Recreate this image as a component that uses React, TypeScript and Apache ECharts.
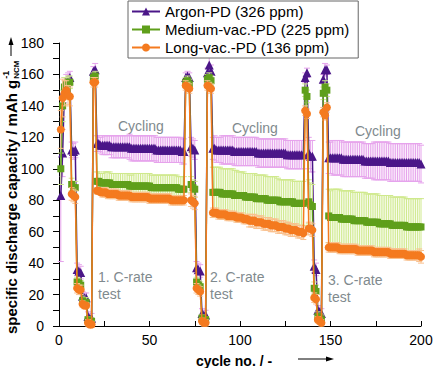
import React, { useEffect, useRef } from 'react';
import * as echarts from 'echarts';

// ---------- data ----------
const seriesNames = ['Argon-PD (326 ppm)', 'Medium-vac.-PD (225 ppm)', 'Long-vac.-PD (136 ppm)'];

// cycles 1-20: 1st C-rate test
const argonTest1 = [83,110,150,156,157,158,112,111,112,36,35,34,19,18,18,6,5,5,162,163];
const mediumTest1 = [100,140,152,154,155,155,90,88,88,28,27,26,16,15,15,4,3,3,158,159];
const orangeTest1 = [125,145,148,150,147,146,84,83,82,24,23,23,14,13,13,2,1,1,155,155];
const argonErrT1 = [42,15,8,4,4,4,5,5,5,4,4,4,3,3,3,3,3,3,3,4];
const mediumErrT1 = [10,10,6,4,4,4,4,4,4,3,3,3,3,3,3,2,2,2,3,3];
const orangeErrT1 = [12,12,8,6,6,6,4,4,4,3,3,3,2,2,2,2,2,2,3,3];

// cycles 21-69: cycling
const argonC1 = [116,116,115,115,115,115,115,115,114,114,114,114,114,114,114,114,114,114,114,113,113,113,113,113,113,113,113,113,113,113,113,113,113,112,112,112,112,112,112,112,112,112,112,112,112,112,112,111,111];
const mediumC1 = [92,92,91,91,91,91,91,91,90,90,90,90,90,90,90,90,90,90,89,89,89,89,89,89,89,89,89,89,89,89,88,88,88,88,88,88,88,88,88,88,88,88,88,88,88,87,87,87,87];
const orangeC1 = [86,86,85,85,85,85,84,84,84,84,84,84,83,83,83,83,83,83,83,82,82,82,82,82,82,82,82,82,82,81,81,81,81,81,81,81,81,81,81,81,81,80,80,80,80,80,80,80,80];
const argonErrC1 = [5,5,5,6,6,6,6,6,7,7,7,7,7,7,7,7,7,7,8,8,8,8,8,8,8,8,8,8,8,8,8,8,8,8,8,8,8,8,8,8,8,8,8,8,8,8,8,8,8];
const mediumErrC1 = [6,6,6,6,7,7,7,7,7,7,7,7,7,7,7,7,7,7,7,7,8,8,8,8,8,8,8,8,8,8,8,8,8,8,8,8,8,8,8,8,8,8,8,8,8,8,8,8,8];
const orangeErrC1 = [2,2,2,3,3,3,3,3,3,3,3,3,3,3,3,3,3,3,3,3,3,3,3,3,3,3,3,3,3,3,3,3,3,3,3,3,3,3,3,3,3,3,3,3,3,3,3,3,3];

// cycles 70-84: 2nd C-rate test
const argonTest2 = [158,159,158,114,113,112,37,36,35,8,7,7,161,166,162];
const mediumTest2 = [155,156,154,90,88,87,28,26,25,5,4,4,157,158,156];
const orangeTest2 = [153,152,151,80,79,78,24,23,22,3,2,2,153,152,151];
const argonErrT2 = [3,3,3,6,6,6,4,4,4,3,3,3,3,5,4];
const mediumErrT2 = [3,3,3,5,5,5,3,3,3,2,2,2,3,3,3];
const orangeErrT2 = [3,3,3,4,4,4,3,3,3,2,2,2,3,3,3];

// cycles 85-135: cycling
const argonC2 = [113,113,112,112,112,112,112,112,112,112,112,112,111,111,111,111,111,111,111,111,111,111,111,111,111,110,110,110,110,110,110,110,110,110,110,110,110,110,110,110,110,109,109,109,109,109,109,109,109,109,109];
const mediumC2 = [85,85,85,85,85,84,84,84,84,84,84,84,83,83,83,83,83,83,82,82,82,82,82,82,81,81,81,81,81,81,80,80,80,80,80,80,80,79,79,79,79,79,79,79,79,78,78,78,78,78,78];
const orangeC2 = [72,72,72,71,71,71,71,71,70,70,70,70,70,69,69,69,69,68,68,68,67,67,67,67,66,66,66,66,65,65,65,65,64,64,64,64,63,63,63,63,62,62,62,61,61,61,61,60,60,60,59];
const argonErrC2 = [7,8,8,8,8,9,9,9,9,9,9,9,9,9,9,9,9,9,9,9,9,9,9,9,9,9,9,9,9,9,9,9,9,9,9,9,9,9,9,9,9,9,9,9,9,9,9,9,9,9,9];
const mediumErrC2 = [16,16,16,16,16,16,16,16,16,16,16,16,16,16,15,15,15,15,15,15,15,15,15,15,15,15,15,15,15,15,15,15,15,15,15,15,14,14,14,14,14,14,14,14,14,14,14,14,14,14,14];
const orangeErrC2 = [3,3,3,3,3,3,3,3,3,3,3,3,3,3,3,3,3,3,3,3,4,4,4,4,4,4,4,4,4,4,4,4,4,4,4,4,4,4,4,4,4,4,4,4,4,4,4,4,4,4,4];

// cycles 136-148: 3rd C-rate test
const argonTest3 = [158,161,110,108,108,38,36,10,9,8,157,163,163];
const mediumTest3 = [150,146,79,77,76,24,22,6,5,4,148,152,150];
const orangeTest3 = [137,135,62,62,61,18,17,4,3,2,136,134,139];
const argonErrT3 = [3,3,10,10,10,4,4,3,3,3,3,4,3];
const mediumErrT3 = [4,4,14,14,14,4,4,3,3,3,4,4,4];
const orangeErrT3 = [3,3,4,4,4,3,3,2,2,2,3,3,3];

// cycles 149-200: cycling
const argonC3 = [107,107,107,107,107,107,107,107,106,106,106,106,106,106,106,106,106,106,106,106,105,105,105,105,105,105,105,105,105,105,105,105,105,105,104,104,104,104,104,104,104,104,104,104,104,104,104,104,104,104,104,103];
const mediumC3 = [70,69,69,69,69,69,69,68,68,68,68,68,68,68,67,67,67,67,67,67,67,66,66,66,66,66,66,66,65,65,65,65,65,65,65,64,64,64,64,64,64,64,64,63,63,63,63,63,63,63,63,63];
const orangeC3 = [50,50,50,50,50,50,49,49,49,49,49,49,49,49,49,49,48,48,48,48,48,48,48,48,48,47,47,47,47,47,47,47,47,47,46,46,46,46,46,46,46,46,46,45,45,45,45,45,45,45,45,44];
const argonErrC3 = [10,10,11,11,11,11,11,11,11,11,11,11,11,11,11,11,11,11,11,11,11,11,11,11,11,12,12,12,12,12,12,12,12,12,12,12,12,12,12,12,12,12,12,12,12,12,12,12,12,12,12,12];
const mediumErrC3 = [17,17,18,18,18,18,18,18,18,18,18,18,18,18,18,18,18,18,18,18,18,18,18,18,18,18,18,18,18,18,18,18,18,18,18,18,18,18,18,18,18,18,18,18,18,18,18,18,18,18,18,18];
const orangeErrC3 = [3,3,3,3,3,3,3,3,3,3,3,3,3,3,3,3,3,3,3,3,3,3,3,3,3,3,3,3,3,3,3,3,3,3,3,3,3,3,3,3,3,3,3,3,3,3,3,3,3,3,4,4];

const argon = [...argonTest1, ...argonC1, ...argonTest2, ...argonC2, ...argonTest3, ...argonC3];
const medium = [...mediumTest1, ...mediumC1, ...mediumTest2, ...mediumC2, ...mediumTest3, ...mediumC3];
const orange = [...orangeTest1, ...orangeC1, ...orangeTest2, ...orangeC2, ...orangeTest3, ...orangeC3];
const argonErr = [...argonErrT1, ...argonErrC1, ...argonErrT2, ...argonErrC2, ...argonErrT3, ...argonErrC3];
const mediumErr = [...mediumErrT1, ...mediumErrC1, ...mediumErrT2, ...mediumErrC2, ...mediumErrT3, ...mediumErrC3];
const orangeErr = [...orangeErrT1, ...orangeErrC1, ...orangeErrT2, ...orangeErrC2, ...orangeErrT3, ...orangeErrC3];
const cycles = argon.map((_, i) => i + 1);

const FONT = '"Liberation Sans", Arial, Helvetica, sans-serif';
const NOTE = '#7f8a8e';

function measure(text: string, font: string): number {
  const c = document.createElement('canvas').getContext('2d');
  if (!c) return text.length * 7.5;
  c.font = font;
  return c.measureText(text).width;
}

function makeSeries(name: string, vals: number[], errs: number[], color: string, light: string, symbol: string, size: number, z: number) {
  const errData = cycles.map((c, i) => [c, vals[i] - errs[i], vals[i] + errs[i]]);
  return [
    {
      type: 'custom',
      name: name + ' err',
      z,
      silent: true,
      encode: { x: 0, y: [1, 2] },
      data: errData,
      renderItem: (params: any, api: any) => {
        const x = api.value(0);
        const lo = api.coord([x, api.value(1)]);
        const hi = api.coord([x, api.value(2)]);
        const cap = 3;
        const st = { stroke: light, lineWidth: 1 };
        return {
          type: 'group',
          children: [
            { type: 'line', shape: { x1: lo[0], y1: lo[1], x2: hi[0], y2: hi[1] }, style: st },
            { type: 'line', shape: { x1: lo[0] - cap, y1: lo[1], x2: lo[0] + cap, y2: lo[1] }, style: st },
            { type: 'line', shape: { x1: hi[0] - cap, y1: hi[1], x2: hi[0] + cap, y2: hi[1] }, style: st },
          ],
        };
      },
    },
    {
      type: 'line',
      name,
      z: z + 1,
      data: cycles.map((c, i) => [c, vals[i]]),
      symbol,
      symbolSize: size,
      lineStyle: { color, width: 1.5 },
      itemStyle: { color },
    },
  ];
}

export default function App() {
  const ref = useRef<HTMLDivElement>(null);
  useEffect(() => {
    if (!ref.current) return;
    const chart = echarts.init(ref.current, null, { renderer: 'svg' });
    const mainTitle = 'specific discharge capacity / mAh g';
    const titleFont = 'bold 15px ' + FONT;
    const w = measure(mainTitle, titleFont);

    const option: any = {
      animation: false,
      grid: { left: 59, right: 12, top: 43, bottom: 42, containLabel: false, outerBoundsMode: 'none' },
      legend: {
        data: seriesNames,
        orient: 'vertical',
        left: 128,
        top: 1,
        itemWidth: 28,
        itemHeight: 10,
        itemGap: 3,
        padding: [3, 9, 3, 3],
        borderColor: '#666',
        borderWidth: 1,
        backgroundColor: '#fff',
        textStyle: { fontSize: 15, fontFamily: FONT, color: '#000' },
      },
      xAxis: {
        type: 'value',
        min: 0,
        max: 200,
        interval: 50,
        axisLine: { show: true, onZero: false, lineStyle: { color: '#000', width: 1 } },
        axisTick: { show: true, inside: true, length: 5, lineStyle: { color: '#000' } },
        minorTick: { show: true, splitNumber: 2, length: 5, lineStyle: { color: '#000' } },
        axisLabel: { fontSize: 14, fontFamily: FONT, color: '#000', margin: 7 },
        splitLine: { show: false },
      },
      yAxis: {
        type: 'value',
        min: 0,
        max: 180,
        interval: 20,
        axisLine: { show: true, onZero: false, lineStyle: { color: '#000', width: 1 } },
        axisTick: { show: true, inside: false, length: 6, lineStyle: { color: '#000' } },
        minorTick: { show: true, splitNumber: 2, length: 6, lineStyle: { color: '#000' } },
        axisLabel: { fontSize: 14, fontFamily: FONT, color: '#000', margin: 15 },
        splitLine: { show: false },
      },
      graphic: [
        {
          type: 'group',
          x: 11,
          y: 334,
          rotation: Math.PI / 2,
          children: [
            { type: 'text', x: 0, y: 0, style: { text: mainTitle, font: titleFont, fill: '#000', align: 'left', verticalAlign: 'middle' } },
            { type: 'text', x: w + 1, y: -5, style: { text: '-1', font: 'bold 9px ' + FONT, fill: '#000', align: 'left', verticalAlign: 'middle' } },
            { type: 'text', x: w + 1, y: 5, style: { text: 'NCM', font: 'bold 8px ' + FONT, fill: '#000', align: 'left', verticalAlign: 'middle' } },
            { type: 'line', shape: { x1: 278, y1: 0, x2: 292, y2: 0 }, style: { stroke: '#000', lineWidth: 1 } },
            { type: 'polygon', shape: { points: [[297, 0], [289, -2.5], [289, 2.5]] }, style: { fill: '#000' } },
          ],
        },
        { type: 'text', x: 234, y: 361, style: { text: 'cycle no. / -', font: 'bold 14px ' + FONT, fill: '#000', align: 'center', verticalAlign: 'middle' } },
        { type: 'line', shape: { x1: 298, y1: 359, x2: 327, y2: 359 }, style: { stroke: '#000', lineWidth: 1 } },
        { type: 'polygon', shape: { points: [[334, 359], [326, 356.5], [326, 361.5]] }, style: { fill: '#000' } },
        { type: 'text', x: 118, y: 126, style: { text: 'Cycling', font: '14px ' + FONT, fill: NOTE, verticalAlign: 'middle' } },
        { type: 'text', x: 232, y: 128, style: { text: 'Cycling', font: '14px ' + FONT, fill: NOTE, verticalAlign: 'middle' } },
        { type: 'text', x: 355, y: 131, style: { text: 'Cycling', font: '14px ' + FONT, fill: NOTE, verticalAlign: 'middle' } },
        { type: 'text', x: 98, y: 277, style: { text: '1. C-rate', font: '14px ' + FONT, fill: NOTE, verticalAlign: 'middle' } },
        { type: 'text', x: 98, y: 294, style: { text: 'test', font: '14px ' + FONT, fill: NOTE, verticalAlign: 'middle' } },
        { type: 'text', x: 210, y: 277, style: { text: '2. C-rate', font: '14px ' + FONT, fill: NOTE, verticalAlign: 'middle' } },
        { type: 'text', x: 210, y: 294, style: { text: 'test', font: '14px ' + FONT, fill: NOTE, verticalAlign: 'middle' } },
        { type: 'text', x: 328, y: 280, style: { text: '3. C-rate', font: '14px ' + FONT, fill: NOTE, verticalAlign: 'middle' } },
        { type: 'text', x: 328, y: 297, style: { text: 'test', font: '14px ' + FONT, fill: NOTE, verticalAlign: 'middle' } },
      ],
      series: [
        ...makeSeries(seriesNames[0], argon, argonErr, '#4b1688', '#e6a3ec', 'triangle', 9, 2),
        ...makeSeries(seriesNames[1], medium, mediumErr, '#5f9f1b', '#cfe98c', 'rect', 7, 4),
        ...makeSeries(seriesNames[2], orange, orangeErr, '#f47a1f', '#f9c08e', 'circle', 8, 6),
      ],
    };
    chart.setOption(option);
    return () => chart.dispose();
  }, []);
  return <div ref={ref} style={{ position: 'absolute', left: 0, top: 0, width: 433, height: 368 }} />;
}
